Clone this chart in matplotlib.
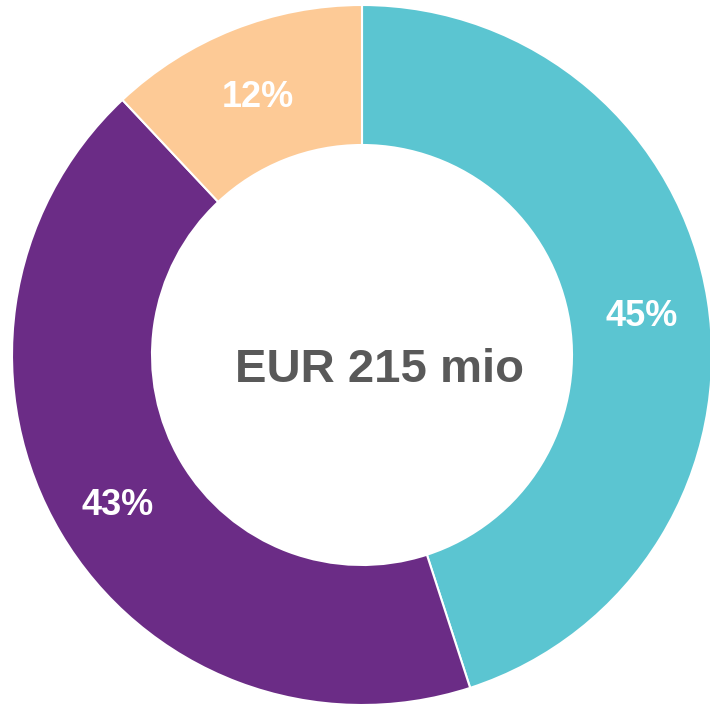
import matplotlib
matplotlib.use("Agg")
import matplotlib.pyplot as plt
import numpy as np

labels = ["A", "B", "C"]
shares = [45, 43, 12]
pct_labels = ["45%", "43%", "12%"]
colors = ["#5BC5D1", "#6B2C86", "#FDCA96"]
center_text = "EUR 215 mio"

W, H = 710, 706
fig = plt.figure(figsize=(W / 100, H / 100), dpi=100)
ax = fig.add_axes([0, 0, 1, 1])
cx, cy, R = 362, 355, 350

wedges, _ = ax.pie(shares, colors=colors, startangle=90, counterclock=False,
                   radius=1.0, wedgeprops=dict(width=0.4, edgecolor="white", linewidth=1.5),
                   center=(0, 0), frame=False)
ax.set_xlim(-cx / R, (W - cx) / R)
ax.set_ylim(-(H - cy) / R, cy / R)
ax.set_aspect("auto")
ax.axis("off")

for w, t in zip(wedges, pct_labels):
    ang = np.deg2rad((w.theta1 + w.theta2) / 2)
    ax.text(0.81 * np.cos(ang), 0.81 * np.sin(ang) - 0.017, t, ha="center", va="center",
            color="white", fontsize=26, fontweight="bold", family="Liberation Sans")

ax.text(0.05, -0.042, center_text, ha="center", va="center", color="#595959",
        fontsize=34, fontweight="bold", family="Liberation Sans")

fig.savefig("out.png", dpi=100)
